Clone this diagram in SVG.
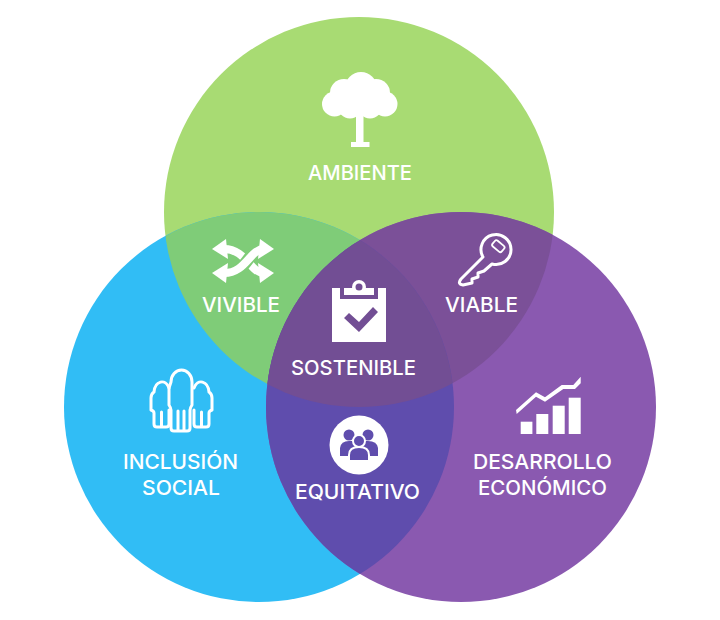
<svg xmlns="http://www.w3.org/2000/svg" width="720" height="620" viewBox="0 0 720 620">
<style>
text{font-family:"Inter","Liberation Sans",sans-serif;font-size:20.5px;font-weight:500;fill:#fff;text-anchor:middle}
.w{fill:#fff}
.o{fill:none;stroke:#fff;stroke-width:3;stroke-linejoin:round;stroke-linecap:round}
</style>
<defs>
<clipPath id="cg"><circle cx="359" cy="212" r="195"/></clipPath>
<clipPath id="cb"><circle cx="259" cy="407" r="195"/></clipPath>
<clipPath id="cp"><circle cx="461" cy="407" r="195"/></clipPath>
</defs>
<rect width="720" height="620" fill="#fff"/>
<g id="venn">
<circle cx="359" cy="212" r="195" fill="#A8DB73"/>
<circle cx="259" cy="407" r="195" fill="#31BDF5"/>
<circle cx="461" cy="407" r="195" fill="#8A59B0"/>
<g clip-path="url(#cg)"><circle cx="259" cy="407" r="195" fill="#7FCC78"/><circle cx="461" cy="407" r="195" fill="#7B5098"/></g>
<g clip-path="url(#cb)"><circle cx="461" cy="407" r="195" fill="#5F4DAD"/></g>
<g clip-path="url(#cg)"><g clip-path="url(#cb)"><circle cx="461" cy="407" r="195" fill="#724E94"/></g></g>
</g>
<g id="ambiente">
<g class="w"><circle cx="334.500" cy="104" r="12.500"/><circle cx="385" cy="104" r="12.500"/><circle cx="344" cy="93" r="14"/><circle cx="376" cy="93" r="14"/><circle cx="361" cy="88" r="16"/><circle cx="350" cy="106" r="12.500"/><circle cx="370" cy="106" r="12.500"/><circle cx="360" cy="100" r="16"/><rect x="356" y="110" width="7.500" height="35"/><rect x="351" y="142" width="18.500" height="5"/></g>
<text x="360" y="180" textLength="104" lengthAdjust="spacingAndGlyphs">AMBIENTE</text>
</g>
<g id="vivible">
<path d="M224,249 C246,249 250,273 264,273" fill="none" stroke="#fff" stroke-width="8"/>
<path d="M228,273 C246,273 250,249 260,249" fill="none" stroke="#7FCC78" stroke-width="12"/>
<path d="M224,273 C246,273 250,249 264,249" fill="none" stroke="#fff" stroke-width="8"/>
<g class="w"><path d="M212,249 L226,239 L228,259 Z"/><path d="M274,249 L260,239 L258,259 Z"/><path d="M212,273 L228,263 L226,283 Z"/><path d="M274,273 L258,263 L260,283 Z"/></g>
<text x="241" y="312" textLength="78" lengthAdjust="spacingAndGlyphs">VIVIBLE</text>
</g>
<g id="viable">
<path class="o" d="M483,257 L461,279 Q457,284 463,285 L472,283 L472,279 L478,277 L478,273 L484,271 L492,264 A15,15 0 1 0 483,257 Z"/>
<rect x="492.500" y="242.500" width="12" height="7.500" rx="2" transform="rotate(40 498.500 246)" fill="none" stroke="#fff" stroke-width="1.800"/>
<text x="481.500" y="312" textLength="73" lengthAdjust="spacingAndGlyphs">VIABLE</text>
</g>
<g id="sostenible">
<rect class="w" x="332" y="288" width="54" height="54"/>
<rect x="340" y="288" width="38" height="11" fill="#724E94"/>
<rect class="w" x="344" y="288" width="30" height="7"/>
<circle class="w" cx="359" cy="287" r="7"/>
<circle cx="359" cy="287" r="3.500" fill="#724E94"/>
<path d="M344,318 L349,313 L359,322 L373,307 L378,312 L359,332 Z" fill="#724E94"/>
<text x="353.500" y="374.500" textLength="125" lengthAdjust="spacingAndGlyphs">SOSTENIBLE</text>
</g>
<g id="inclusion-social">
<path class="o" d="M171,382 A10.500,12 0 0 1 192,382 V405 Q190,408 190,410 V428 Q190,431 187,431 H174 Q171,431 171,428 V410 Q171,408 169,405 V388 Z M178,411 V430 M184,411 V430"/>
<path class="o" d="M154,392 A8,11.500 0 0 1 169,388 M154,392 Q151,394 151,398 V410 Q154,411 154,413 V424 Q154,427 157,427 H166 Q169,427 169,424 V410 M161.500,412 V426"/>
<path class="o" d="M209,392 A8,11.500 0 0 0 194,388 M209,392 Q212,394 212,398 V410 Q209,411 209,413 V424 Q209,427 206,427 H197 Q194,427 194,424 V410 M201.500,412 V426"/>
<text x="180.500" y="469" textLength="115" lengthAdjust="spacingAndGlyphs">INCLUSIÓN</text>
<text x="181" y="495" textLength="78" lengthAdjust="spacingAndGlyphs">SOCIAL</text>
</g>
<g id="equitativo">
<circle class="w" cx="359" cy="445" r="29.500"/>
<g fill="#5F4DAD"><circle cx="349" cy="435" r="5.500"/><circle cx="368" cy="435" r="5.500"/>
<path d="M340,456 V448 Q341,441 349,441 H368 Q377,441 378,448 V456 Z"/></g>
<circle cx="359" cy="441" r="6" fill="#5F4DAD" stroke="#fff" stroke-width="2"/>
<path d="M349,461 V455 Q349,447 359,447 Q369,447 369,455 V461 Z" fill="#5F4DAD" stroke="#fff" stroke-width="2"/>
<text x="357.500" y="498.500" textLength="125" lengthAdjust="spacingAndGlyphs">EQUITATIVO</text>
</g>
<g id="desarrollo-economico">
<g class="w"><rect x="520.700" y="421.700" width="11.700" height="12.300"/><rect x="536.300" y="414" width="12" height="20"/><rect x="552.700" y="405.700" width="12" height="28.300"/><rect x="568.700" y="397.700" width="12" height="36.300"/>
<path d="M516,410 L536,392.300 L545,397.300 L561.700,385 L573.300,385 L580.700,376.700 V383.300 L575,389 H563.300 L545,401.700 L536,396.700 L516.700,414 Z"/></g>
<text x="542.500" y="469" textLength="139" lengthAdjust="spacingAndGlyphs">DESARROLLO</text>
<text x="542.500" y="495" textLength="129" lengthAdjust="spacingAndGlyphs">ECONÓMICO</text>
</g>
</svg>
